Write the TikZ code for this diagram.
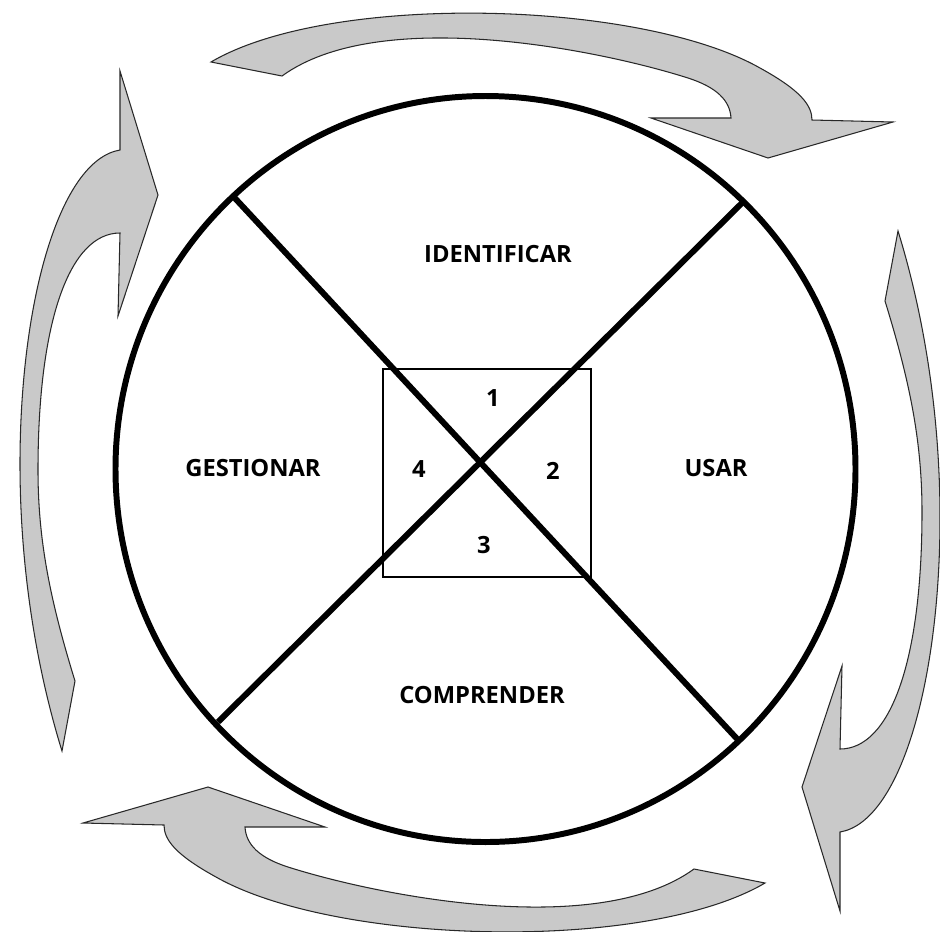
\documentclass[tikz,border=0pt]{standalone}
\usepackage{fontspec}
\setmainfont{Open Sans}
\usetikzlibrary{shapes.geometric}
\definecolor{arrowgray}{RGB}{201,201,201}
\definecolor{arrowline}{RGB}{40,40,40}
\tikzset{
  bigarrow/.style={fill=arrowgray, draw=arrowline, line width=0.6pt, line join=miter},
  thick line/.style={line width=3.4pt},
  label/.style={font=\fontsize{13.5}{16}\selectfont\bfseries, inner sep=0pt},
}
\begin{document}
\begin{tikzpicture}[x=0.02cm,y=-0.02cm]
\useasboundingbox (0,0) rectangle (940,931);
% top arrow
\path[bigarrow] (211,62) .. controls (330,-8) and (640,0) .. (760,68)
  .. controls (800,90) and (812,105) .. (812,120) -- (893,122) -- (768,158) -- (651,118) -- (731,118)
  .. controls (730,100) and (716,87) .. (688,78)
  .. controls (600,50) and (380,5) .. (282,76) -- cycle;
% bottom arrow (top arrow turned half a turn)
\begin{scope}[shift={(976,945)}, xscale=-1, yscale=-1]
\path[bigarrow] (211,62) .. controls (330,-8) and (640,0) .. (760,68)
  .. controls (800,90) and (812,105) .. (812,120) -- (893,122) -- (768,158) -- (651,118) -- (731,118)
  .. controls (730,100) and (716,87) .. (688,78)
  .. controls (600,50) and (380,5) .. (282,76) -- cycle;
\end{scope}
% left arrow
\path[bigarrow] (62,751) -- (75,681)
  .. controls (50,600) and (38,540) .. (38,470)
  .. controls (38,320) and (70,233) .. (120,233)
  -- (118,316) -- (158,195) -- (120,71) -- (120,150)
  .. controls (60,160) and (20,300) .. (20,464)
  .. controls (20,580) and (40,680) .. cycle;
% right arrow (left arrow turned half a turn)
\begin{scope}[shift={(960,982)}, xscale=-1, yscale=-1]
\path[bigarrow] (62,751) -- (75,681)
  .. controls (50,600) and (38,540) .. (38,470)
  .. controls (38,320) and (70,233) .. (120,233)
  -- (118,316) -- (158,195) -- (120,71) -- (120,150)
  .. controls (60,160) and (20,300) .. (20,464)
  .. controls (20,580) and (40,680) .. cycle;
\end{scope}
% circle
\node[draw, thick line, ellipse, minimum width=740*0.02cm, minimum height=746*0.02cm, inner sep=0pt] (circ) at (485.5,469) {};
% square
\node[draw, line width=1.6pt, minimum width=208*0.02cm, minimum height=208*0.02cm, inner sep=0pt] (sq) at (487,473) {};
% diagonals
\coordinate (tl) at (232,195);
\coordinate (br) at (740,742);
\coordinate (tr) at (744,201);
\coordinate (bl) at (218,722);
\draw[thick line] (tl) -- (br);
\draw[thick line] (tr) -- (bl);
% labels
\node[label] (ident) at (498,254) {IDENTIFICAR};
\node[label] (usar) at (716,468) {USAR};
\node[label] (compr) at (482,695) {COMPRENDER};
\node[label] (gest) at (253,468) {GESTIONAR};
\node[label] (n1) at (493,398) {1};
\node[label] (n2) at (553,471) {2};
\node[label] (n3) at (484,545) {3};
\node[label] (n4) at (419,469) {4};
\end{tikzpicture}
\end{document}
